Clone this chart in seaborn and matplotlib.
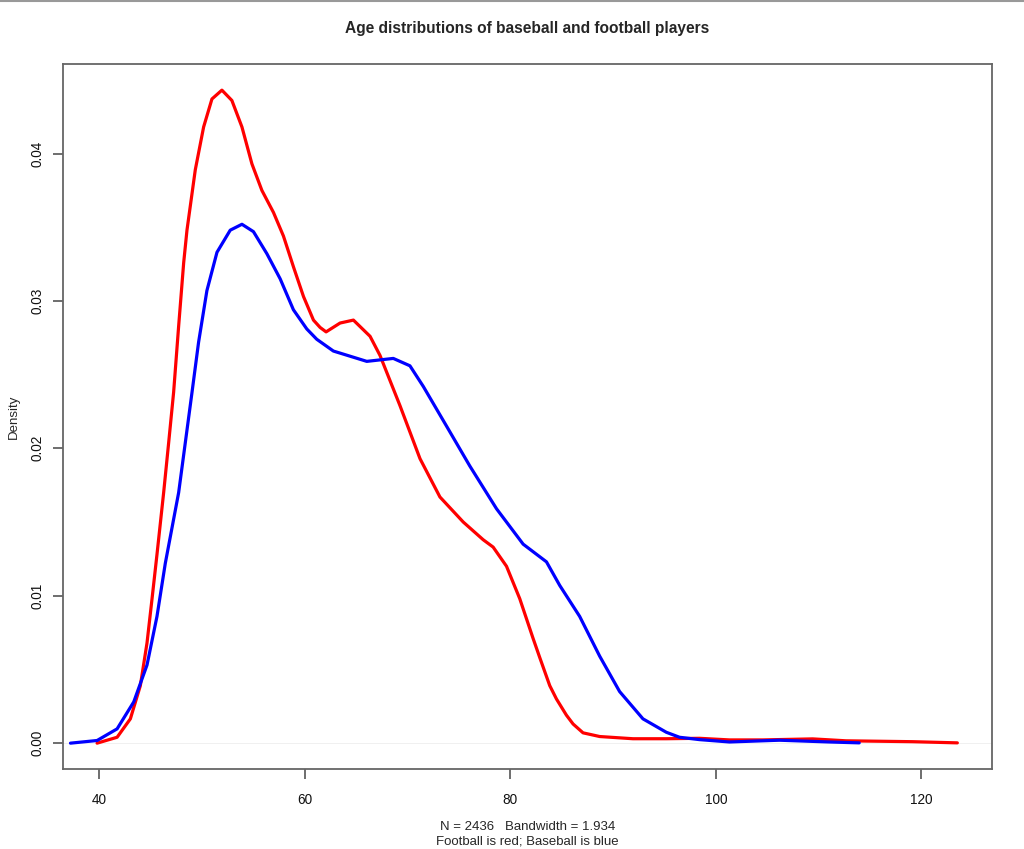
import numpy as np
import pandas as pd
import matplotlib
matplotlib.use("Agg")
import matplotlib.pyplot as plt
from matplotlib.lines import Line2D
import seaborn as sns

# density curves (age, density)
football_age = [39.77, 41.72, 43.01, 43.98, 44.63, 45.12, 45.6, 46.25, 46.74, 47.22,
                47.71, 48.2, 48.52, 49.33, 50.14, 50.95, 51.92, 52.89, 53.87, 54.84,
                55.81, 56.94, 57.91, 58.89, 59.86, 60.83, 61.48, 62.06, 63.42, 64.72,
                66.34, 67.31, 69.25, 71.2, 73.14, 75.41, 76.38, 77.35, 78.32, 79.62,
                80.91, 82.21, 82.86, 83.83, 84.48, 85.45, 86.1, 87.07, 88.69, 91.93,
                95.17, 98.4, 101.32, 104.56, 109.42, 112.66, 119.13, 123.5]
football_density = [0.0, 0.0004, 0.00165, 0.0039, 0.0068, 0.0098, 0.0128, 0.0170, 0.0204, 0.0238,
                    0.0283, 0.0326, 0.0348, 0.0389, 0.0418, 0.0437, 0.0443, 0.0436, 0.0418, 0.0393,
                    0.0375, 0.0360, 0.0344, 0.0323, 0.0303, 0.0287, 0.0282, 0.0279, 0.0285, 0.0287,
                    0.0276, 0.0263, 0.0229, 0.0193, 0.0167, 0.0150, 0.0144, 0.0138, 0.0133, 0.0120,
                    0.0098, 0.0071, 0.0058, 0.0039, 0.0030, 0.0019, 0.0013, 0.0007, 0.00045, 0.0003,
                    0.0003, 0.00033, 0.00022, 0.00022, 0.00029, 0.00016, 0.0001, 0.00002]

baseball_age = [37.18, 39.77, 41.72, 43.34, 44.63, 45.6, 46.41, 47.71, 48.36, 49.01,
                49.65, 50.46, 51.44, 52.73, 53.87, 54.99, 56.3, 57.59, 58.88, 60.18,
                61.15, 62.77, 66.02, 67.31, 68.6, 70.22, 71.52, 73.79, 76.05, 78.65,
                81.24, 83.51, 84.8, 86.74, 88.69, 90.63, 92.9, 95.17, 96.46, 98.4,
                101.32, 106.18, 111.04, 113.95]
baseball_density = [0.0, 0.00018, 0.00097, 0.0028, 0.0053, 0.0086, 0.0122, 0.0170, 0.0204, 0.0238,
                    0.0272, 0.0307, 0.0333, 0.0348, 0.0352, 0.0347, 0.0332, 0.0315, 0.0294, 0.0281,
                    0.0274, 0.0266, 0.0259, 0.0260, 0.0261, 0.0256, 0.0242, 0.0215, 0.0188, 0.0159,
                    0.0135, 0.0123, 0.0107, 0.0086, 0.0059, 0.0035, 0.00165, 0.00074, 0.0004, 0.00024,
                    0.00008, 0.0002, 0.00008, 0.00002]

x_ticks = [40, 60, 80, 100, 120]
y_ticks = [0.00, 0.01, 0.02, 0.03, 0.04]

sns.set_theme(style="white")
plt.rcParams["font.family"] = ["Liberation Sans", "DejaVu Sans"]

fig = plt.figure(figsize=(10.24, 8.49), dpi=100)
ax = fig.add_axes([0.0612, 0.0939, 0.9073, 0.8307])

ax.axhline(0, color="#eeeeee", lw=0.6, zorder=1)
sns.lineplot(x=football_age, y=football_density, color="#ff0000", lw=2.3,
             estimator=None, sort=False, ax=ax, zorder=3,
             solid_joinstyle="round", solid_capstyle="round")
sns.lineplot(x=baseball_age, y=baseball_density, color="#0000ff", lw=2.3,
             estimator=None, sort=False, ax=ax, zorder=4,
             solid_joinstyle="round", solid_capstyle="round")

# R-style limits: 4% padding around the first curve's range
xmin, xmax = min(football_age), max(football_age)
ymin, ymax = min(football_density), max(football_density)
ax.set_xlim(xmin - 0.04 * (xmax - xmin), xmax + 0.04 * (xmax - xmin))
ax.set_ylim(ymin - 0.04 * (ymax - ymin), ymax + 0.04 * (ymax - ymin))

ax.set_xticks(x_ticks)
ax.set_xticklabels([str(t) for t in x_ticks])
ax.set_yticks(y_ticks)
ax.set_yticklabels([f"{t:.2f}" for t in y_ticks], rotation=90, va="center")
ax.tick_params(axis="both", direction="out", length=7, width=1.2, color="#555555",
               labelsize=9.8, labelcolor="#111111", pad=8)
ax.tick_params(axis="x", bottom=True, pad=10)
ax.tick_params(axis="y", left=True, pad=6)

for sp in ax.spines.values():
    sp.set_visible(True)
    sp.set_color("#666666")
    sp.set_linewidth(1.3)

ax.set_title("Age distributions of baseball and football players",
             fontsize=11.2, fontweight="bold", pad=22)
ax.set_xlabel("N = 2436   Bandwidth = 1.934\nFootball is red; Baseball is blue",
              fontsize=9.5, labelpad=10, linespacing=1.3)
ax.set_ylabel("Density", fontsize=9.5, labelpad=8)

fig.add_artist(Line2D([0, 1], [0.999, 0.999], color="#999999", lw=1.5,
                      transform=fig.transFigure))

fig.savefig("out.png", dpi=100)
